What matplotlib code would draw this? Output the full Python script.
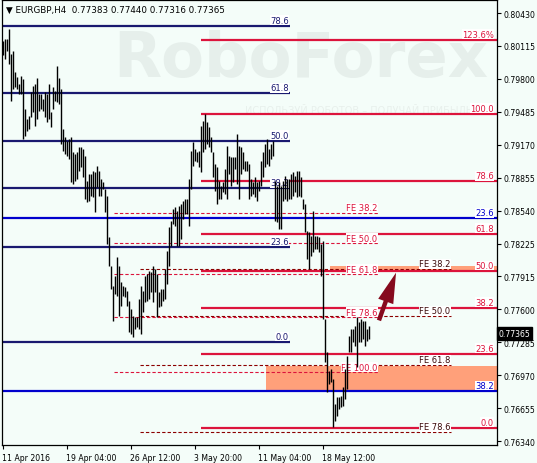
import matplotlib
matplotlib.use("Agg")
import matplotlib.pyplot as plt
from matplotlib.patches import FancyArrowPatch, Rectangle

plt.rcParams['font.family'] = ['DejaVu Sans']
plt.rcParams['lines.scale_dashes'] = False

# ---------------- data ----------------
symbol = "EURGBP,H4"
last_ohlc = ["0.77383", "0.77440", "0.77316", "0.77365"]
last_close = 0.77365

highs = [0.80165, 0.80182, 0.80182, 0.80277, 0.80038, 0.80070, 0.79864, 0.79816, 0.79752, 0.79831,
         0.79800, 0.79513, 0.79418, 0.79449, 0.79673, 0.79736, 0.79752, 0.79806, 0.79656, 0.79656,
         0.79609, 0.79673, 0.79656, 0.79752, 0.79482, 0.79720, 0.79688, 0.79927, 0.79806, 0.79704,
         0.79322, 0.79243, 0.79210, 0.79226, 0.79243, 0.79099, 0.79083, 0.79099, 0.79147, 0.79147,
         0.79131, 0.79067, 0.78828, 0.78892, 0.78892, 0.78924, 0.78908, 0.78971, 0.78924, 0.78844,
         0.78813, 0.78749, 0.78685, 0.78288, 0.78016, 0.77825, 0.77921, 0.78096, 0.78016, 0.77858,
         0.77825, 0.77810, 0.77777, 0.77682, 0.77603, 0.77539, 0.77523, 0.77523, 0.77698, 0.77825,
         0.77777, 0.77921, 0.77937, 0.77968, 0.77953, 0.78016, 0.77985, 0.77937, 0.77762, 0.77794,
         0.77794, 0.77985, 0.78160, 0.78383, 0.78446, 0.78558, 0.78574, 0.78542, 0.78589, 0.78606,
         0.78637, 0.78653, 0.78653, 0.78844, 0.79115, 0.79195, 0.79131, 0.79099, 0.79115, 0.79354,
         0.79401, 0.79465, 0.79386, 0.79338, 0.79243, 0.79099, 0.78988, 0.78956, 0.78828, 0.78780,
         0.78813, 0.78940, 0.79162, 0.79067, 0.79052, 0.79052, 0.79052, 0.79274, 0.79162, 0.79147,
         0.79099, 0.79019, 0.79019, 0.78988, 0.78844, 0.78813, 0.78861, 0.78813, 0.78828, 0.79019,
         0.79099, 0.79179, 0.79226, 0.79131, 0.79179, 0.79207, 0.78828, 0.78780, 0.78813, 0.78780,
         0.78828, 0.78876, 0.78844, 0.78844, 0.78892, 0.78908, 0.78876, 0.78924, 0.78924, 0.78861,
         0.78653, 0.78606, 0.78350, 0.78335, 0.78303, 0.78542, 0.78303, 0.78303, 0.78288, 0.78224,
         0.78255, 0.77507, 0.77189, 0.77013, 0.77030, 0.76934, 0.76695, 0.76759, 0.76759, 0.76775,
         0.76855, 0.77030, 0.77157, 0.77348, 0.77412, 0.77412, 0.77443, 0.77523, 0.77476, 0.77507,
         0.77491, 0.77491, 0.77412, 0.77440]

lows = [0.80032, 0.79991, 0.80070, 0.79943, 0.79592, 0.79704, 0.79720, 0.79704, 0.79656, 0.79656,
        0.79226, 0.79258, 0.79306, 0.79322, 0.79434, 0.79482, 0.79354, 0.79418, 0.79497, 0.79513,
        0.79497, 0.79434, 0.79386, 0.79418, 0.79338, 0.79513, 0.79592, 0.79577, 0.79561, 0.79179,
        0.79115, 0.79083, 0.79067, 0.79035, 0.78813, 0.78797, 0.78828, 0.78844, 0.78924, 0.78956,
        0.78861, 0.78653, 0.78622, 0.78637, 0.78685, 0.78670, 0.78526, 0.78765, 0.78685, 0.78685,
        0.78749, 0.78526, 0.78224, 0.78016, 0.77794, 0.77491, 0.77746, 0.77730, 0.77539, 0.77634,
        0.77730, 0.77714, 0.77634, 0.77380, 0.77364, 0.77332, 0.77412, 0.77428, 0.77412, 0.77364,
        0.77571, 0.77667, 0.77682, 0.77698, 0.77762, 0.77667, 0.77762, 0.77523, 0.77619, 0.77634,
        0.77682, 0.77698, 0.77841, 0.78016, 0.78207, 0.78415, 0.78398, 0.78207, 0.78207, 0.78271,
        0.78462, 0.78510, 0.78510, 0.78398, 0.78749, 0.78971, 0.79019, 0.79004, 0.78956, 0.78908,
        0.79099, 0.79131, 0.79179, 0.79147, 0.79099, 0.78861, 0.78733, 0.78606, 0.78653, 0.78653,
        0.78717, 0.78701, 0.78653, 0.78892, 0.78780, 0.78813, 0.78940, 0.78797, 0.78653, 0.78892,
        0.78940, 0.78924, 0.78924, 0.78653, 0.78685, 0.78701, 0.78670, 0.78637, 0.78733, 0.78780,
        0.78861, 0.78956, 0.78988, 0.78971, 0.79035, 0.79067, 0.78446, 0.78431, 0.78367, 0.78367,
        0.78637, 0.78653, 0.78637, 0.78653, 0.78653, 0.78685, 0.78717, 0.78670, 0.78685, 0.78670,
        0.78558, 0.78335, 0.78080, 0.77985, 0.78112, 0.78144, 0.78176, 0.78176, 0.78144, 0.77921,
        0.77507, 0.77094, 0.76807, 0.76886, 0.76902, 0.76473, 0.76536, 0.76583, 0.76647, 0.76664,
        0.76679, 0.76743, 0.76838, 0.77189, 0.77189, 0.77285, 0.77252, 0.77049, 0.77285, 0.77285,
        0.77316, 0.77252, 0.77300, 0.77316]

ytick_values = [0.80430, 0.80115, 0.79800, 0.79485, 0.79170, 0.78855, 0.78540,
                0.78225, 0.77915, 0.77600, 0.77285, 0.76970, 0.76655, 0.76340]
xtick_bars = [0, 32, 64, 96, 128, 160]
xtick_labels = ["11 Apr 2016", "19 Apr 04:00", "26 Apr 12:00", "3 May 20:00",
                "11 May 04:00", "18 May 12:00"]

# Fibonacci retracement (navy, short)
fibA_labels = ["78.6", "61.8", "50.0", "38.2", "23.6", "0.0"]
fibA_prices = [0.80309, 0.79663, 0.79212, 0.78758, 0.78198, 0.77290]
fibA_end_bar = 143.75

# Fibonacci retracement (blue, full width)
fibB_labels = ["23.6", "38.2"]
fibB_prices = [0.78472, 0.76822]

# Fibonacci retracement (crimson)
fibC_labels = ["123.6%", "100.0", "78.6", "61.8", "50.0", "38.2", "23.6", "0.0"]
fibC_prices = [0.80176, 0.79468, 0.78826, 0.78322, 0.77968, 0.77615, 0.77177, 0.76469]
fibC_start_bar = 99.1

# Fibonacci expansion (crimson dashed)
feD_labels = ["FE 38.2", "FE 50.0", "FE 61.8", "FE 78.6", "FE 100.0"]
feD_prices = [0.78520, 0.78230, 0.77934, 0.77523, 0.76998]
feD_bars = (55.75, 187.5)

# Fibonacci expansion (dark red dashed)
feE_labels = ["FE 38.2", "FE 50.0", "FE 61.8", "FE 78.6"]
feE_prices = [0.77985, 0.77533, 0.77068, 0.76425]
feE_bars = (68.75, 224.0)

# target zones
zone_start_bars = [163.75, 131.75]
zone_lows = [0.77970, 0.76822]
zone_highs = [0.78018, 0.77061]

arrow_tail = (187.75, 0.77469)
arrow_head = (197.25, 0.77975)

watermark = "RoboForex"
watermark_sub = "ИСПОЛЬЗУЙ РОБОТОВ – ПОЛУЧАЙ ПРИБЫЛЬ"

# ---------------- style ----------------
W, H = 537, 464
BG = "#F4FDF9"
NAVY = "#191970"
BLUE = "#0000CD"
CRIMSON = "#DC143C"
DARKRED = "#8B0000"
FS = 6.0
TFS = 5.6

fig = plt.figure(figsize=(W / 100, H / 100), dpi=100, facecolor=BG)
ax = fig.add_axes([1.5 / W, (H - 446) / H, 495 / W, 445.5 / H], facecolor=BG)
x_min, x_max = -0.5, 247.0
y_min, y_max = 0.76304, 0.80559
ax.set_xlim(x_min, x_max)
ax.set_ylim(y_min, y_max)
label_x_right = 245.75

for s in ax.spines.values():
    s.set_color("black")
    s.set_linewidth(0.9)

# watermark
ax.text(149, 0.79990, watermark, fontsize=45, color="#E6EFEB",
        ha="center", va="center", zorder=0.5, fontweight="bold")
ax.text(178, 0.79500, watermark_sub, fontsize=7.0, color="#E8F0EC",
        ha="center", va="center", zorder=0.5)

# zones
for xs, lo, hi in zip(zone_start_bars, zone_lows, zone_highs):
    ax.add_patch(Rectangle((xs, lo), x_max - xs, hi - lo, facecolor="#FFA07A",
                           edgecolor="none", zorder=1))

lbl_kw = dict(fontsize=FS, ha="right", va="bottom", zorder=3,
              textcoords="offset points", xytext=(0, 0.6),
              bbox=dict(boxstyle="square,pad=0.05", fc="white", ec="none"))

# navy retracement
for lab, p in zip(fibA_labels, fibA_prices):
    ax.plot([x_min, fibA_end_bar], [p, p], color=NAVY, lw=1.6, zorder=2, solid_capstyle="butt")
    ax.annotate(lab, (fibA_end_bar - 0.5, p), color=NAVY, **lbl_kw)

# blue retracement
for lab, p in zip(fibB_labels, fibB_prices):
    ax.plot([x_min, x_max], [p, p], color=BLUE, lw=1.6, zorder=2)
    ax.annotate(lab, (label_x_right, p), color=BLUE, **lbl_kw)

# crimson retracement
for lab, p in zip(fibC_labels, fibC_prices):
    ax.plot([fibC_start_bar, x_max], [p, p], color=CRIMSON, lw=1.6, zorder=2, solid_capstyle="butt")
    ax.annotate(lab, (label_x_right, p), color=CRIMSON, **lbl_kw)

# expansions
for lab, p in zip(feD_labels, feD_prices):
    ax.plot(list(feD_bars), [p, p], color=CRIMSON, lw=0.8, ls=(0, (2.4, 1.5)), zorder=2)
    ax.annotate(lab, (feD_bars[1], p), color=CRIMSON, **lbl_kw)

for lab, p in zip(feE_labels, feE_prices):
    ax.plot(list(feE_bars), [p, p], color=DARKRED, lw=0.8, ls=(0, (2.4, 1.5)), zorder=2)
    ax.annotate(lab, (feE_bars[1], p), color="#3A0A0A", **lbl_kw)

# price bars
xs = list(range(len(highs)))
ax.vlines(xs, lows, highs, color="black", lw=1.0, zorder=4)

# arrow
arr = FancyArrowPatch(arrow_tail, arrow_head,
                      arrowstyle="simple,head_length=2.2,head_width=1.15,tail_width=0.32",
                      mutation_scale=10, color="#860A1E", zorder=5, lw=0)
ax.add_patch(arr)

# axes ticks
ax.yaxis.tick_right()
ax.set_yticks(ytick_values)
ax.set_yticklabels([f"{v:.5f}" for v in ytick_values], fontsize=TFS)
ax.tick_params(axis="y", direction="out", length=3, width=0.8, pad=2.0, colors="black")
ax.set_xticks(xtick_bars)
ax.set_xticklabels(xtick_labels, fontsize=TFS, ha="left")
ax.tick_params(axis="x", direction="out", length=3, width=0.8, pad=2.5, colors="black")

# current price marker
ax.annotate(f"{last_close:.5f}", (1.0, last_close), xycoords=("axes fraction", "data"),
            xytext=(1.6, 0), textcoords="offset points", ha="left", va="center",
            fontsize=TFS, color="white", zorder=10, annotation_clip=False,
            bbox=dict(boxstyle="square,pad=0.25", fc="black", ec="black"))

# header
fig.text(6 / W, 1 - 10.5 / H, "▼ " + symbol + "  " + " ".join(last_ohlc),
         fontsize=6.3, color="black", ha="left", va="center")

fig.savefig("out.png", dpi=100, facecolor=BG)
